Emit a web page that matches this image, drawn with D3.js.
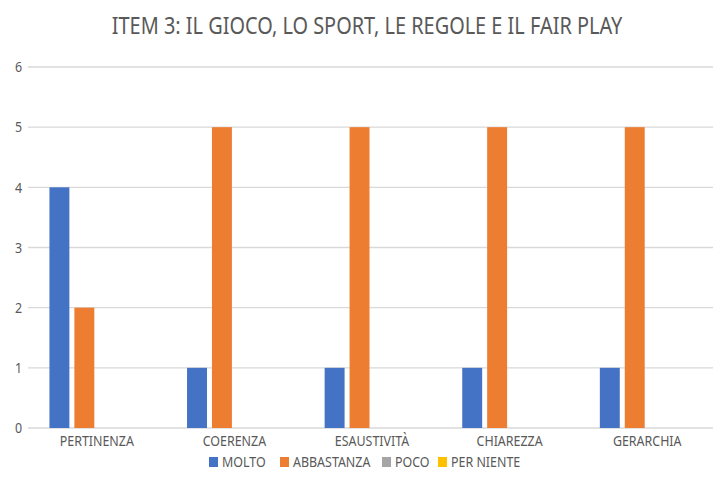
<!DOCTYPE html>
<html lang="it">
<head>
    <meta charset="UTF-8">
    <title>Item 3</title>
    <script src="https://d3js.org/d3.v7.min.js"></script>
    <style>
        body { margin: 0; background: #fff; }
        text {
            font-family: "Noto Sans", "DejaVu Sans", sans-serif;
            fill: #595959;
        }
    </style>
</head>
<body>
    <div id="chart"></div>
    <script>
        var width = 713;
        var height = 497;

        // data
        var categories = ["PERTINENZA", "COERENZA", "ESAUSTIVITÀ", "CHIAREZZA", "GERARCHIA"];
        var seriesNames = ["MOLTO", "ABBASTANZA", "POCO", "PER NIENTE"];
        var molto = [4, 1, 1, 1, 1];
        var abbastanza = [2, 5, 5, 5, 5];
        var poco = [0, 0, 0, 0, 0];
        var perNiente = [0, 0, 0, 0, 0];
        var yTicks = [0, 1, 2, 3, 4, 5, 6];
        var colors = ["#4472C4", "#ED7D31", "#A5A5A5", "#FFC000"];

        var seriesValues = [molto, abbastanza, poco, perNiente];

        // narrow the font a bit so it looks like Calibri
        var squeeze = 0.83;
        function place(x, y) {
            return "translate(" + x + "," + y + ") scale(" + squeeze + ",1)";
        }

        var svg = d3.select("#chart")
            .append("svg")
            .attr("width", width)
            .attr("height", height);

        var x0 = d3.scaleBand()
            .domain(categories)
            .range([28, 716]);

        var x1 = d3.scaleBand()
            .domain(seriesNames)
            .range([0, x0.bandwidth()])
            .paddingInner(0.2)
            .paddingOuter(0.86);

        var y = d3.scaleLinear()
            .domain([0, 6])
            .range([428, 67]);

        // title
        svg.append("text")
            .attr("transform", place(367, 34))
            .attr("text-anchor", "middle")
            .style("font-size", "24px")
            .text("ITEM 3: IL GIOCO, LO SPORT, LE REGOLE E IL FAIR PLAY");

        // gridlines
        svg.append("g")
            .selectAll("line")
            .data(yTicks)
            .join("line")
            .attr("x1", 28)
            .attr("x2", width)
            .attr("y1", function (d) { return y(d); })
            .attr("y2", function (d) { return y(d); })
            .attr("stroke", "#D9D9D9")
            .attr("stroke-width", 1.3);

        // y labels
        svg.append("g")
            .selectAll("text")
            .data(yTicks)
            .join("text")
            .attr("transform", function (d) { return place(22, y(d)); })
            .attr("dy", "0.35em")
            .attr("text-anchor", "end")
            .style("font-size", "15px")
            .text(function (d) { return d; });

        // bars
        var groups = svg.append("g")
            .selectAll("g")
            .data(categories)
            .join("g")
            .attr("transform", function (d) { return "translate(" + x0(d) + ",0)"; });

        groups.selectAll("rect")
            .data(function (c, i) {
                return seriesNames.map(function (s, j) {
                    return { series: s, value: seriesValues[j][i], color: colors[j] };
                });
            })
            .join("rect")
            .attr("x", function (d) { return x1(d.series); })
            .attr("width", x1.bandwidth())
            .attr("y", function (d) { return y(d.value); })
            .attr("height", function (d) { return y(0) - y(d.value); })
            .attr("fill", function (d) { return d.color; });

        // category labels
        svg.append("g")
            .selectAll("text")
            .data(categories)
            .join("text")
            .attr("transform", function (d) { return place(x0(d) + x0.bandwidth() / 2, 446); })
            .attr("text-anchor", "middle")
            .style("font-size", "15px")
            .text(function (d) { return d; });

        // legend
        var legendX = [209, 280, 382, 438];
        var legend = svg.append("g")
            .selectAll("g")
            .data(seriesNames)
            .join("g")
            .attr("transform", function (d, i) { return "translate(" + legendX[i] + ",462)"; });

        legend.append("rect")
            .attr("x", 0)
            .attr("y", -5)
            .attr("width", 9)
            .attr("height", 10)
            .attr("fill", function (d, i) { return colors[i]; });

        legend.append("text")
            .attr("transform", place(13, 0))
            .attr("dy", "0.35em")
            .style("font-size", "15px")
            .text(function (d) { return d; });
    </script>
</body>
</html>
